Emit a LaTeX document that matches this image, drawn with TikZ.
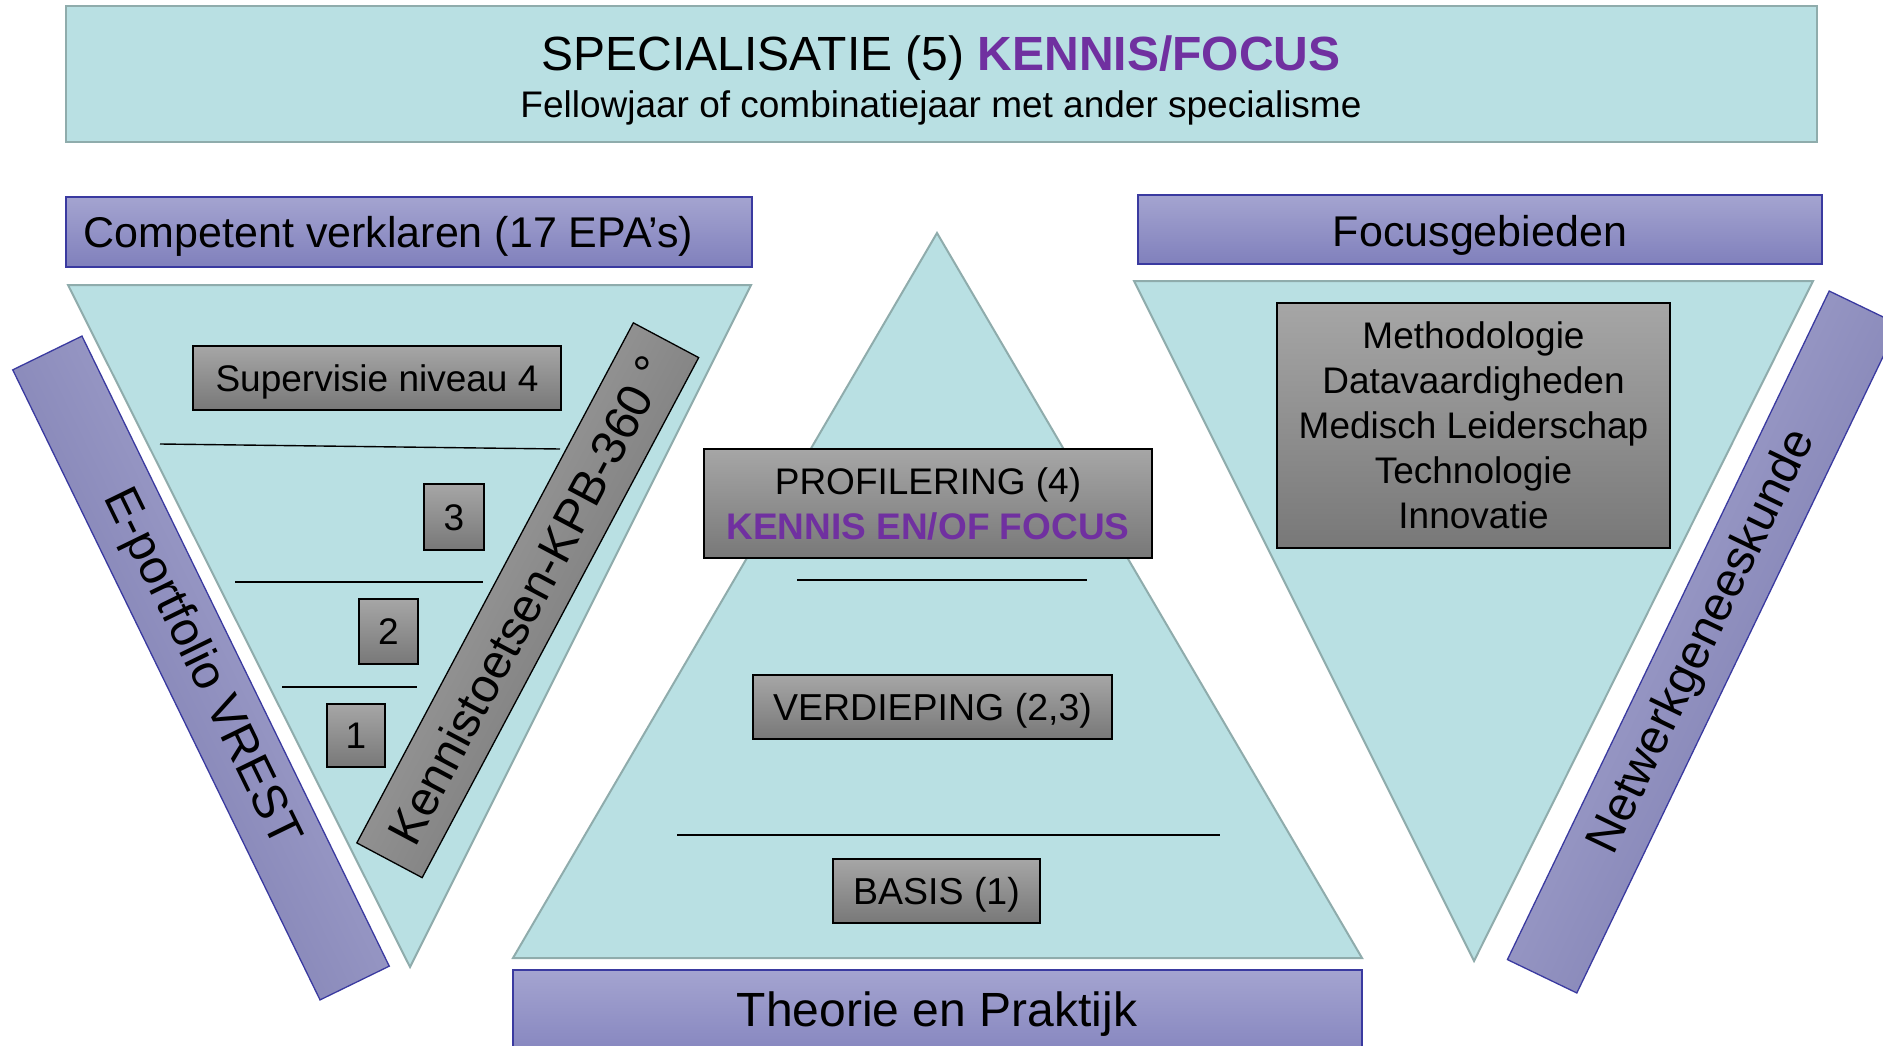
\documentclass[tikz,border=0pt]{standalone}
\usepackage{fontspec}
\setmainfont{Liberation Sans}
\definecolor{tealfill}{HTML}{B9E0E3}
\definecolor{tealedge}{HTML}{8FACAC}
\definecolor{purtop}{HTML}{A4A4D0}
\definecolor{purbot}{HTML}{8080BC}
\definecolor{puredge}{HTML}{3A3AA0}
\definecolor{graytop}{HTML}{A6A6A6}
\definecolor{graybot}{HTML}{787878}
\definecolor{kpurple}{HTML}{7030A0}
\newcommand{\fsz}[1]{\fontsize{#1}{1.2\dimexpr #1pt\relax}\selectfont}
\tikzset{
  tealshape/.style={fill=tealfill, draw=tealedge, line width=2pt, line join=miter},
  purplebox/.style={draw=puredge, line width=1.5pt, top color=purtop, bottom color=purbot, inner sep=0pt},
  graybox/.style={draw=black, line width=1.3pt, top color=graytop, bottom color=graybot, inner sep=0pt},
  strip/.style={draw=puredge, line width=1.3pt, inner sep=0pt},
  divider/.style={draw=black, line width=1.4pt},
  capc/.style={text height=#1, text depth=0pt},
  txt/.style={inner sep=0pt, text=black}
}
\begin{document}
\begin{tikzpicture}[x=1pt,y=1pt]
\clip (0,0) rectangle (1883,-1046);
\fill[white] (0,0) rectangle (1883,-1046);

% top banner
\node[tealshape, minimum width=1751pt, minimum height=136pt, inner sep=0pt] (top) at (941.5,-74) {};
\node[txt, capc=34.6pt, font=\fsz{48}] (title) at (941,-53) {SPECIALISATIE (5) \textcolor{kpurple}{\bfseries KENNIS/FOCUS}};
\node[txt, capc=26.6pt, font=\fsz{37}] (sub) at (941,-104) {Fellowjaar of combinatiejaar met ander specialisme};

% triangles
\draw[tealshape] (68,-285) -- (751,-285) -- (410,-967) -- cycle;
\draw[tealshape] (937,-233) -- (1362,-958) -- (513,-958) -- cycle;
\draw[tealshape] (1134,-281) -- (1813,-281) -- (1474,-961) -- cycle;

% header boxes
\node[purplebox, minimum width=686pt, minimum height=70pt] (cv) at (409,-232) {};
\node[txt, capc=31pt, font=\fsz{43}] (cvt) at (388.5,-232) {Competent verklaren (17 EPA’s)};
\node[purplebox, minimum width=684pt, minimum height=69pt] (fg) at (1480,-229.5) {};
\node[txt, capc=31pt, font=\fsz{43}] (fgt) at (1480,-231) {Focusgebieden};
\node[purplebox, minimum width=849pt, minimum height=100pt] (tp) at (937.5,-1020) {};
\node[txt, capc=34.6pt, font=\fsz{48}] (tpt) at (937,-1009) {Theorie en Praktijk};

% dividers
\draw[divider] (160,-444) -- (560,-449);
\draw[divider] (235,-582) -- (483,-582);
\draw[divider] (282,-687) -- (417,-687);
\draw[divider] (797,-580) -- (1087,-580);
\draw[divider] (677,-835) -- (1220,-835);

% gray boxes left
\node[graybox, capc=26.6pt, font=\fsz{37}, minimum width=368pt, minimum height=64pt] (sup) at (377,-378) {Supervisie niveau 4};
\node[graybox, capc=26.6pt, font=\fsz{37}, minimum width=60pt, minimum height=66pt] (n3) at (454,-517) {3};
\node[graybox, capc=26.6pt, font=\fsz{37}, minimum width=59pt, minimum height=65pt] (n2) at (388.5,-631.5) {2};
\node[graybox, capc=26.6pt, font=\fsz{37}, minimum width=58pt, minimum height=63pt] (n1) at (356,-735.5) {1};

% center boxes
\node[graybox, font=\fontsize{37}{45}\selectfont, minimum width=448pt, minimum height=109pt, align=center] (prof) at (928,-503.5)
  {PROFILERING (4)\\\textcolor{kpurple}{\bfseries KENNIS EN/OF FOCUS}};
\node[graybox, capc=27pt, font=\fsz{37.5}, minimum width=359pt, minimum height=64pt] (verd) at (932.5,-707) {VERDIEPING (2,3)};
\node[graybox, capc=27pt, font=\fsz{37.5}, minimum width=207pt, minimum height=64pt] (basis) at (936.5,-891) {BASIS (1)};

% focus list
\node[graybox, font=\fontsize{37}{45}\selectfont, minimum width=393pt, minimum height=245pt, align=center] (focus) at (1473.5,-425.5)
  {Methodologie\\Datavaardigheden\\Medisch Leiderschap\\Technologie\\Innovatie};

% slanted strips (gradient across their width)
\node[strip, font=\fsz{48}, rotate=-64, minimum width=701pt, minimum height=77pt,
      top color=purtop!90!white, bottom color=purbot!90!black, shading angle=-64] (eport) at (201,-668)
  {E-portfolio VREST};
\node[graybox, font=\fsz{48}, rotate=62, minimum width=589pt, minimum height=74pt,
      top color=graytop!95!white, bottom color=graybot!90!black, shading angle=62] (kennis) at (527.75,-600.25)
  {Kennistoetsen-KPB-360 °};
\node[strip, font=\fsz{48}, rotate=64.3, minimum width=742pt, minimum height=77pt,
      top color=purtop!90!white, bottom color=purbot!90!black, shading angle=64.3] (netw) at (1703,-642)
  {Netwerkgeneeskunde};
\end{tikzpicture}
\end{document}
